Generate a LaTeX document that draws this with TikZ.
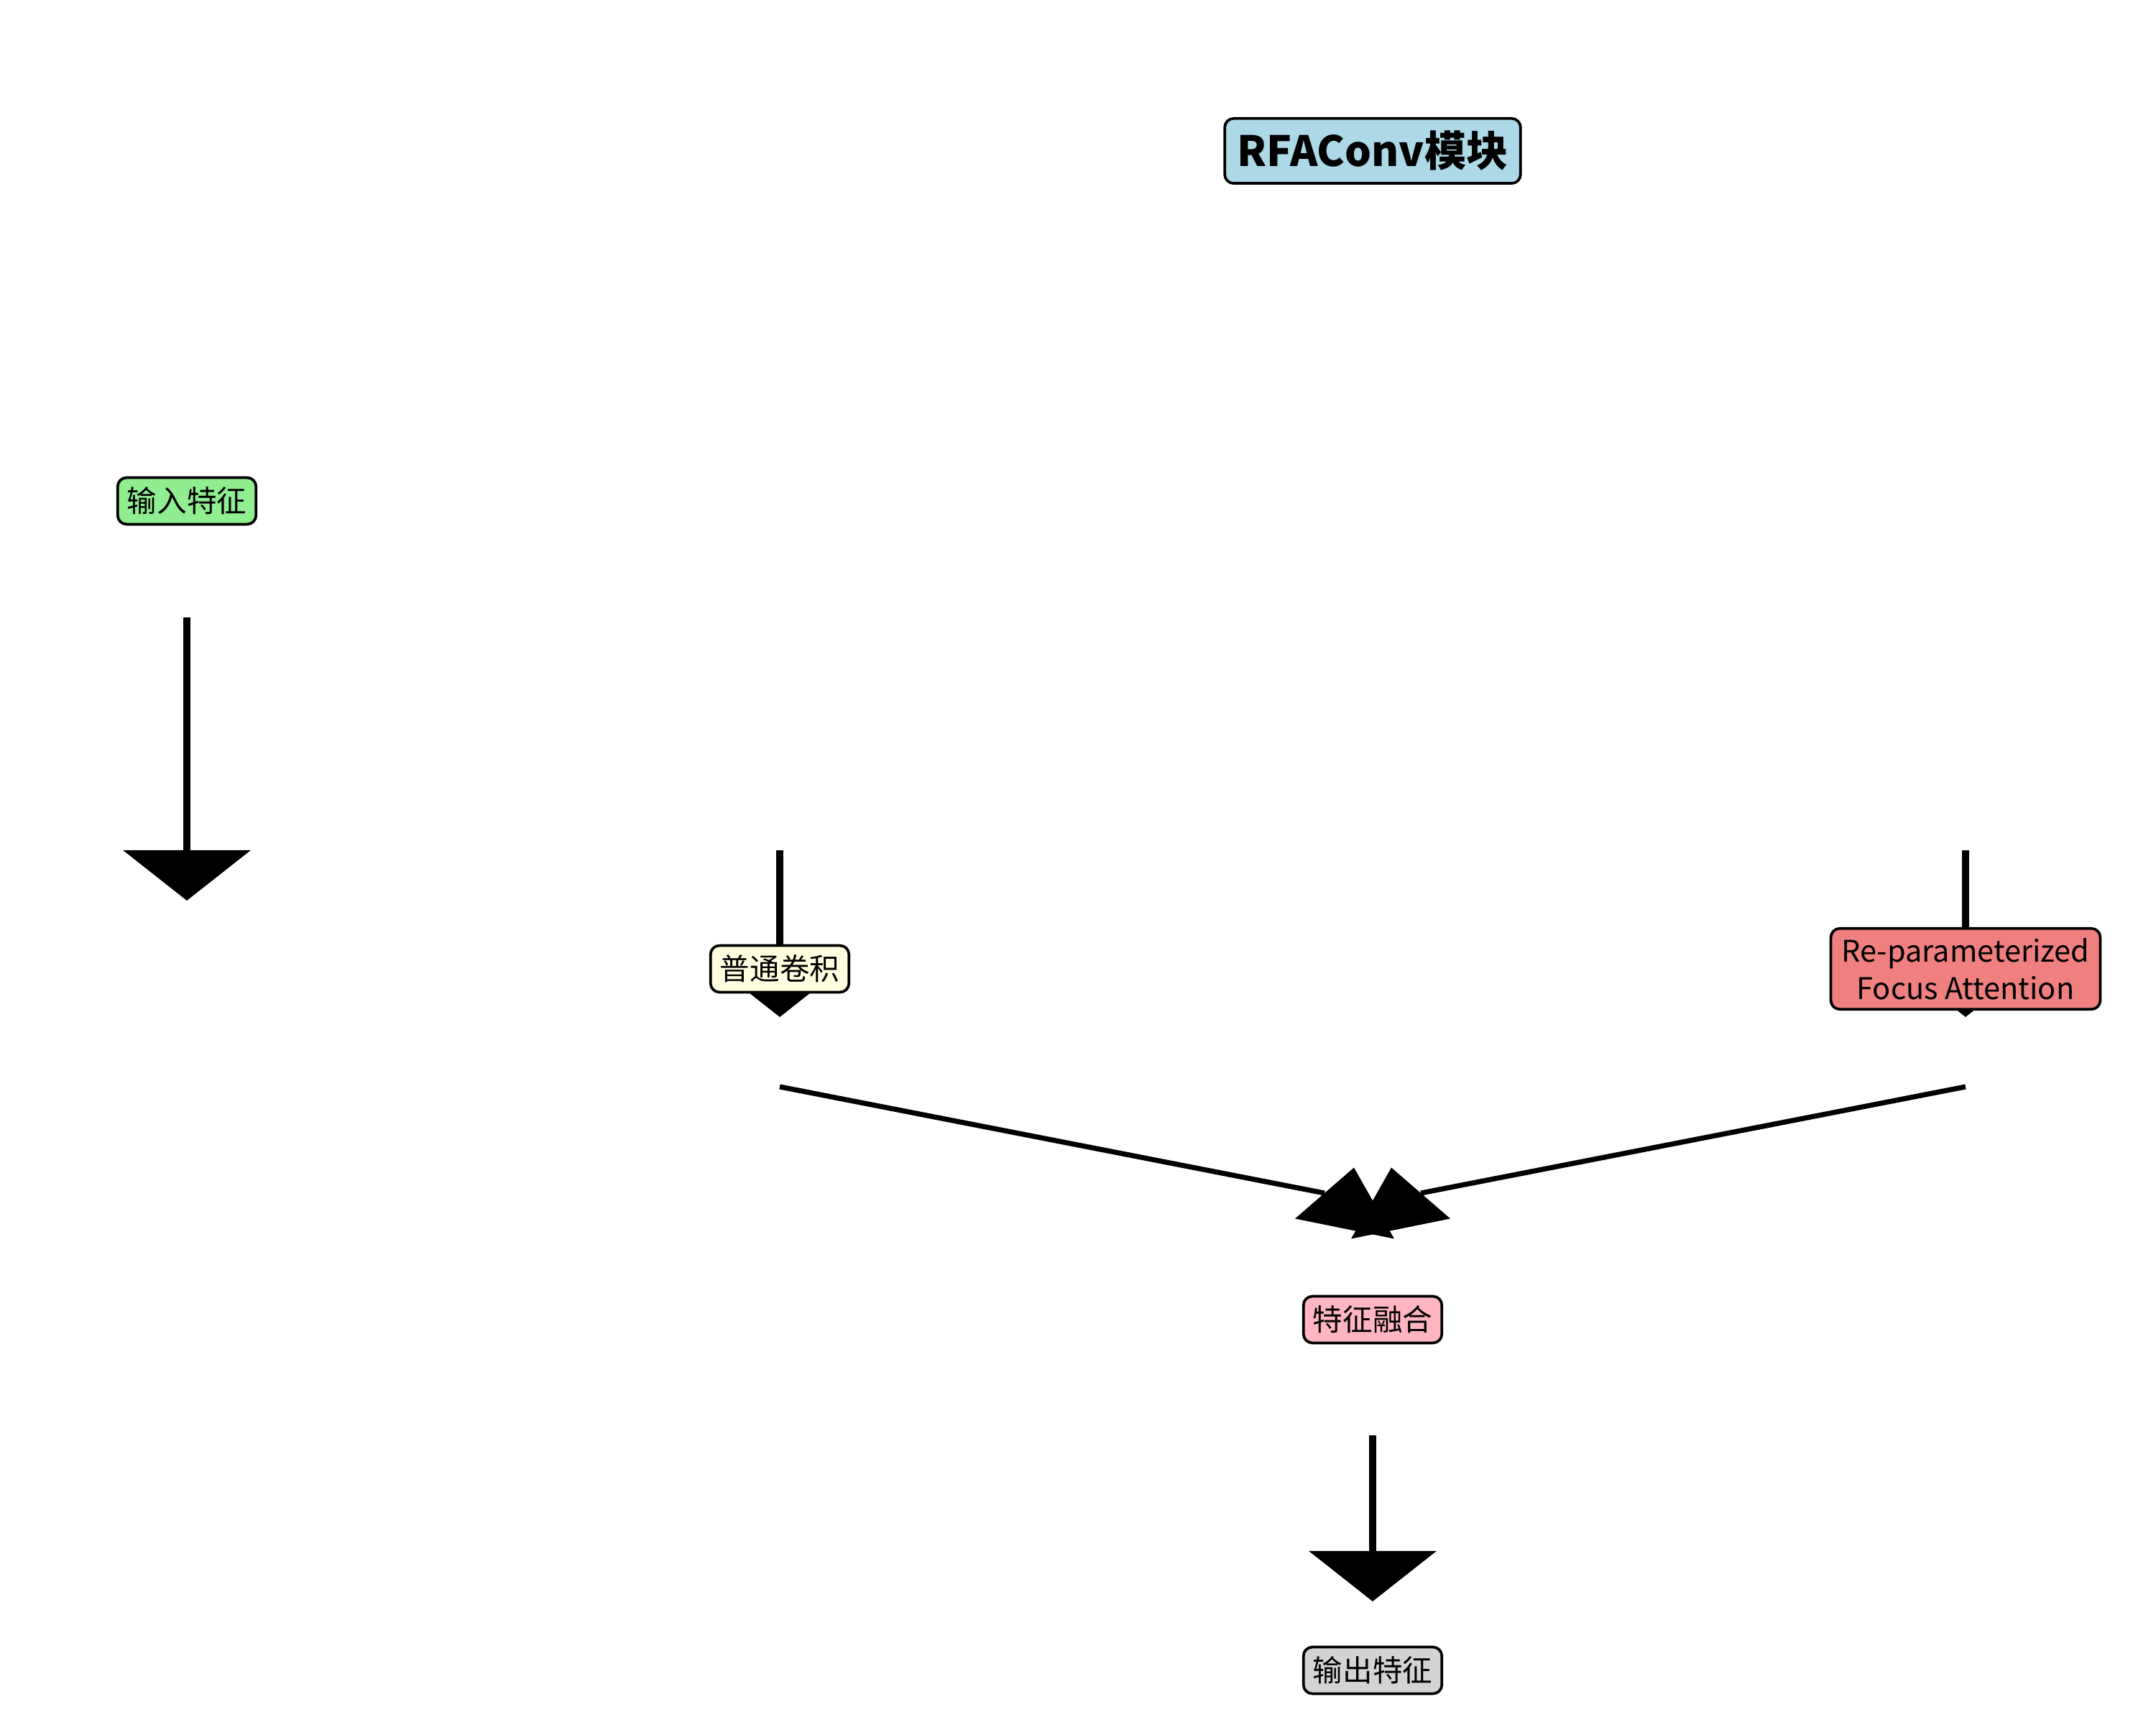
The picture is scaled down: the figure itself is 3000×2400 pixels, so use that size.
\documentclass[tikz,border=0pt]{standalone}
\usepackage{fontspec}
\setmainfont{Noto Sans CJK SC}
\usepackage{tikz}
\usetikzlibrary{arrows.meta,positioning,calc}

\definecolor{ttlblue}{RGB}{173,216,230}
\definecolor{ingreen}{RGB}{144,238,144}
\definecolor{convyel}{RGB}{255,255,224}
\definecolor{attcoral}{RGB}{240,128,128}
\definecolor{fusepink}{RGB}{255,182,193}
\definecolor{outgray}{RGB}{211,211,211}

\begin{document}
\begin{tikzpicture}[
  x=0.0846667mm, y=-0.0846667mm,
  blk/.style={draw,rounded corners=3pt,line width=0.9pt,inner sep=3.2pt,align=center,font=\fontsize{10}{11.5}\selectfont},
  flow/.style={line width=2.28pt,-{Triangle[length=5.93mm,width=14.9mm]}},
  slim/.style={line width=1.7pt}
]
  \useasboundingbox (0,0) rectangle (3000,2400);

  % arrow end points
  \coordinate (inS) at (260,859);   \coordinate (inE) at (260,1253);
  \coordinate (cvS) at (1085,1183); \coordinate (cvE) at (1085,1415);
  \coordinate (raS) at (2735,1183); \coordinate (raE) at (2735,1415);
  \coordinate (cvL) at (1085,1512); \coordinate (fuL) at (1843,1660);
  \coordinate (raL) at (2735,1512); \coordinate (fuR) at (1977,1660);
  \coordinate (fuS) at (1910,1997); \coordinate (fuE) at (1910,2228);

  \draw[flow] (inS) -- (inE);
  \draw[flow] (cvS) -- (cvE);
  \draw[flow] (raS) -- (raE);
  \draw[slim] (cvL) -- (fuL);
  \fill (fuL) ++(-41,35.5) -- ++(82,-71) -- ++(56,99) -- cycle;
  \draw[slim] (raL) -- (fuR);
  \fill (fuR) ++(41,35.5) -- ++(-82,-71) -- ++(-56,99) -- cycle;
  \draw[flow] (fuS) -- (fuE);

  \node[blk,fill=ttlblue,inner sep=4.2pt,font=\bfseries\fontsize{14}{16}\selectfont] (title) at (1910,210) {RFAConv模块};
  \node[blk,fill=ingreen] (inp) at (260,697) {输入特征};
  \node[blk,fill=convyel] (conv) at (1085,1348) {普通卷积};
  \node[blk,fill=attcoral,inner xsep=3.6pt,font=\fontsize{10}{12.6}\selectfont] (rfa) at (2735,1348) {Re-parameterized\\Focus Attention};
  \node[blk,fill=fusepink] (fuse) at (1910,1836) {特征融合};
  \node[blk,fill=outgray] (outp) at (1910,2324) {输出特征};
\end{tikzpicture}
\end{document}
